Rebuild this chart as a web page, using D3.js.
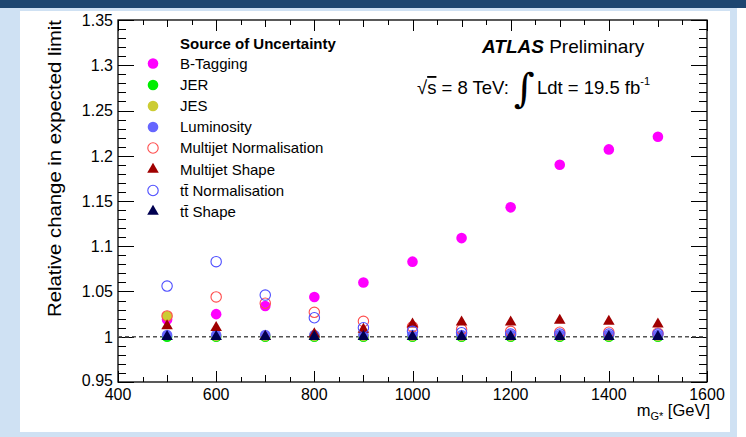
<!DOCTYPE html>
<html><head><meta charset="utf-8">
<script src="https://cdn.jsdelivr.net/npm/d3@7"></script>
<style>body{margin:0;background:#fff;} text{font-family:"Liberation Sans",Arial,Helvetica,sans-serif;}</style>
</head><body>
<svg id="c" width="746" height="437"></svg>
<script>
const masses = [500,600,700,800,900,1000,1100,1200,1300,1400,1500];
const bTagging      = [1.019,1.025,1.034,1.044,1.060,1.083,1.109,1.143,1.190,1.207,1.221];
const jer           = [1.000,1.000,1.000,1.000,1.000,1.000,1.000,1.000,1.000,1.000,1.000];
const jes           = [1.023,1.001,1.001,1.001,1.001,1.001,1.001,1.001,1.001,1.001,1.001];
const luminosity    = [1.002,1.002,1.002,1.002,1.002,1.002,1.002,1.002,1.002,1.002,1.002];
const multijetNorm  = [1.023,1.044,1.037,1.027,1.017,1.011,1.008,1.006,1.005,1.005,1.004];
const multijetShape = [1.012,1.010,1.000,1.003,1.008,1.014,1.016,1.016,1.018,1.017,1.014];
const ttNorm        = [1.056,1.083,1.046,1.021,1.010,1.006,1.0045,1.003,1.003,1.003,1.003];
const ttShape       = [1.000,1.000,1.000,1.000,1.000,1.000,1.000,1.000,1.000,1.000,1.000];
const seriesNames = ["B-Tagging","JER","JES","Luminosity","Multijet Normalisation","Multijet Shape","t\u0074\u0304 Normalisation","t\u0074\u0304 Shape"];
const xTickValues = [400,600,800,1000,1200,1400,1600];
const yTickValues = [0.95,1,1.05,1.1,1.15,1.2,1.25,1.3,1.35];
const yTickLabels = ["0.95","1","1.05","1.1","1.15","1.2","1.25","1.3","1.35"];

const series = [
  {name:seriesNames[0], v:bTagging, type:"fill", color:"#ff00ff"},
  {name:seriesNames[1], v:jer, type:"fill", color:"#00ee00"},
  {name:seriesNames[2], v:jes, type:"fill", color:"#cccc33"},
  {name:seriesNames[3], v:luminosity, type:"fill", color:"#6666ff"},
  {name:seriesNames[4], v:multijetNorm, type:"open", color:"#ff4d4d"},
  {name:seriesNames[5], v:multijetShape, type:"tri", color:"#a00000"},
  {name:seriesNames[6], v:ttNorm, type:"open", color:"#4d4dff"},
  {name:seriesNames[7], v:ttShape, type:"tri", color:"#000050"}
];

const svg = d3.select("#c");
// background frames
svg.append("rect").attr("x",0).attr("y",0).attr("width",746).attr("height",437).attr("fill","#fff");
svg.append("rect").attr("x",0).attr("y",7).attr("width",737).attr("height",430).attr("fill","#cfe1f3");
svg.append("rect").attr("x",0).attr("y",0).attr("width",746).attr("height",8).attr("fill","#1e4670");
svg.append("rect").attr("x",20).attr("y",11).attr("width",710).attr("height",421).attr("fill","#fff");

const L=118, R=707, T=20, B=382;
const x = d3.scaleLinear().domain([400,1600]).range([L,R]);
const y = d3.scaleLinear().domain([0.95,1.35]).range([B,T]);

// ticks
const g = svg.append("g").attr("stroke","#000").attr("stroke-width",1);
const xt = d3.range(400,1601,50);
xt.forEach(v=>{
  const len = v%200===0?11:(v%100===0?7:5);
  const px = Math.round(x(v))+0.5;
  g.append("line").attr("x1",px).attr("x2",px).attr("y1",B).attr("y2",B-len);
  g.append("line").attr("x1",px).attr("x2",px).attr("y1",T).attr("y2",T+len);
});
const yt = d3.range(0,41).map(i=>0.95+i*0.01);
yt.forEach((v,i)=>{
  const len = i%5===0?16:8;
  const py = Math.round(y(v))+0.5;
  g.append("line").attr("x1",L).attr("x2",L+len).attr("y1",py).attr("y2",py);
  g.append("line").attr("x1",R).attr("x2",R-len).attr("y1",py).attr("y2",py);
});
svg.append("rect").attr("x",L).attr("y",T).attr("width",R-L).attr("height",B-T)
  .attr("fill","none").attr("stroke","#000").attr("stroke-width",1.3);

// tick labels
svg.selectAll(".yl").data(yTickValues).enter().append("text")
  .attr("x",113).attr("y",d=>y(d)-(d===0.95?1.5:0)).attr("dy","0.36em").attr("text-anchor","end")
  .attr("font-size",16).text((d,i)=>yTickLabels[i]);
svg.selectAll(".xl").data(xTickValues).enter().append("text")
  .attr("x",d=>x(d)).attr("y",399.5).attr("text-anchor","middle")
  .attr("font-size",16).text(d=>d);

// axis titles
svg.append("text").attr("transform","translate(61,20) rotate(-90)").attr("text-anchor","end")
  .attr("font-size",18.5).attr("textLength",297).attr("lengthAdjust","spacingAndGlyphs")
  .text("Relative change in expected limit");
const xtitle = svg.append("text").attr("x",710).attr("y",416).attr("text-anchor","end").attr("font-size",16.5);
xtitle.append("tspan").text("m");
xtitle.append("tspan").attr("font-size",11).attr("dy",4).text("G*");
xtitle.append("tspan").attr("dy",-4).text(" [GeV]");

// dashed line at 1
svg.append("line").attr("x1",L).attr("x2",R).attr("y1",y(1)).attr("y2",y(1))
  .attr("stroke","#555").attr("stroke-width",1.6).attr("stroke-dasharray","4,3");

// markers
function drawMarker(sel, s){
  if(s.type==="fill"){
    sel.append("circle").attr("r",5.3).attr("fill",s.color);
  } else if(s.type==="open"){
    sel.append("circle").attr("r",5.2).attr("fill","none").attr("stroke",s.color).attr("stroke-width",1.1);
  } else {
    sel.append("path").attr("d",d3.symbol(d3.symbolTriangle,58)()).attr("fill",s.color);
  }
}
series.forEach(s=>{
  masses.forEach((m,i)=>{
    const gg = svg.append("g").attr("transform",`translate(${x(m)},${y(s.v[i])})`);
    drawMarker(gg,s);
  });
});

// legend
svg.append("text").attr("x",180).attr("y",49).attr("font-size",15).attr("font-weight","bold").text("Source of Uncertainty");
const rowY = [63.5,85,106,127,148,169.5,190.5,211.5];
series.forEach((s,i)=>{
  const gg = svg.append("g").attr("transform",`translate(153,${rowY[i]})`);
  drawMarker(gg,s);
  svg.append("text").attr("x",180).attr("y",rowY[i]).attr("dy","0.36em").attr("font-size",15).text(s.name);
});

// ATLAS label
const at = svg.append("text").attr("x",482).attr("y",53).attr("font-size",19);
at.append("tspan").attr("font-weight","bold").attr("font-style","italic").text("ATLAS");
at.append("tspan").text(" Preliminary");
const lum = svg.append("text").attr("x",417).attr("y",94).attr("font-size",18.5);
lum.append("tspan").text("\u221A");
lum.append("tspan").attr("text-decoration","overline").text("s");
lum.append("tspan").text(" = 8 TeV: ");
lum.append("tspan").attr("font-size",40).attr("dy",8).attr("font-family","DejaVu Serif").text("\u222B");
lum.append("tspan").attr("dy",-8).attr("dx",2).text("Ldt = 19.5 fb");
lum.append("tspan").attr("font-size",11).attr("dy",-9).text("-1");
</script>
</body></html>
